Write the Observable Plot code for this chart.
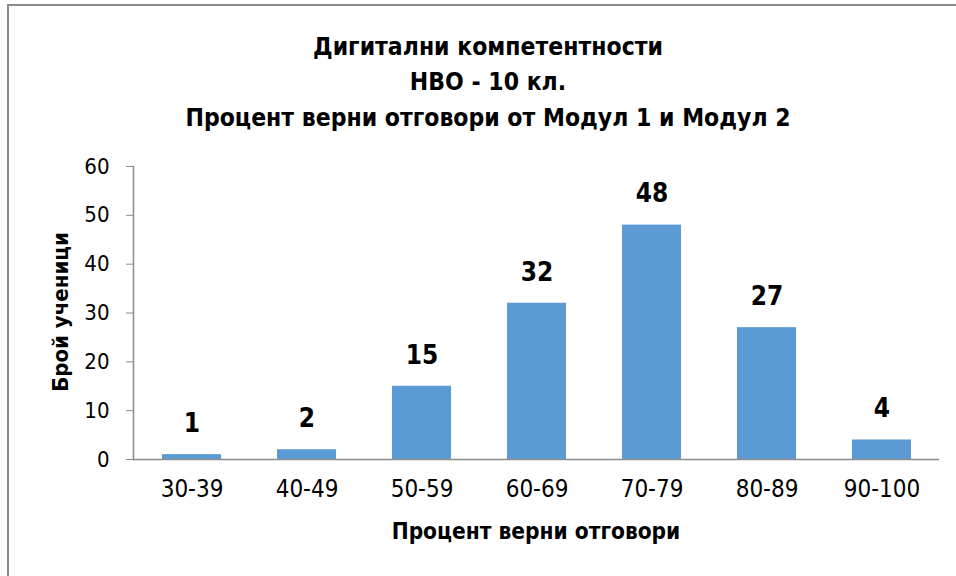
<!DOCTYPE html>
<html><head><meta charset="utf-8">
<script src="https://cdn.jsdelivr.net/npm/d3@7"></script>
<script src="https://cdn.jsdelivr.net/npm/@observablehq/plot@0.6"></script>
<style>
html,body{margin:0;padding:0;background:#fff;}
#wrap{position:relative;width:956px;height:576px;overflow:hidden;font-family:"Liberation Sans Narrow","DejaVu Sans Condensed","Open Sans",sans-serif;}
#border{position:absolute;left:7px;top:4px;width:960px;height:600px;border-left:2px solid #8c8c8c;border-top:2px solid #8c8c8c;}
.t{position:absolute;left:0;width:976px;text-align:center;font-weight:bold;font-size:24.5px;color:#000;}
#chart{position:absolute;left:0;top:0;}
#ytitle{position:absolute;left:60px;top:312px;transform:translate(-50%,-50%) rotate(-90deg);font-weight:bold;font-size:22px;white-space:nowrap;}
#xtitle{position:absolute;left:0;width:1072px;top:518px;text-align:center;font-weight:bold;font-size:22.5px;}
</style></head>
<body>
<div id="wrap">
<div id="border"></div>
<div id="chart"></div>
<div class="t" style="top:32px">Дигитални компетентности</div>
<div class="t" style="top:67px">НВО - 10 кл.</div>
<div class="t" style="top:103px">Процент верни отговори от Модул 1 и Модул 2</div>
<div id="ytitle">Брой ученици</div>
<div id="xtitle">Процент верни отговори</div>
</div>
<script>
const categories = ["30-39","40-49","50-59","60-69","70-79","80-89","90-100"];
const values = [1, 2, 15, 32, 48, 27, 4];
const yTicks = [0, 10, 20, 30, 40, 50, 60];

const data = categories.map((c, i) => ({cat: c, val: values[i]}));
const font = '"Liberation Sans Narrow","DejaVu Sans Condensed","Open Sans",sans-serif';

const chart = Plot.plot({
  width: 956,
  height: 576,
  marginTop: 166,
  marginBottom: 117,
  marginLeft: 133,
  marginRight: 17,
  style: {fontFamily: font, background: "transparent", overflow: "visible"},
  x: {domain: categories, paddingInner: 0.49, paddingOuter: 0.245, label: null},
  y: {domain: [0, 60], label: null},
  marks: [
    Plot.barY(data, {x: "cat", y: "val", fill: "#5B9BD5"}),
    Plot.ruleY([0], {stroke: "#8c8c8c", strokeWidth: 1.5}),
    Plot.frame({anchor: "left", stroke: "#8c8c8c", strokeWidth: 1.5}),
    Plot.axisY({ticks: yTicks, tickSize: 7, tickPadding: 17, stroke: "#8c8c8c", fill: "#000", fontSize: 22, label: null, tickFormat: d => d}),
    Plot.axisX({tickSize: 0, tickPadding: 20, fill: "#000", fontSize: 24, label: null}),
    Plot.text(data, {x: "cat", y: "val", text: d => String(d.val), dy: -31, fontSize: 26, fontWeight: "bold", fill: "#000"})
  ]
});
document.getElementById("chart").appendChild(chart);
</script>
</body></html>
